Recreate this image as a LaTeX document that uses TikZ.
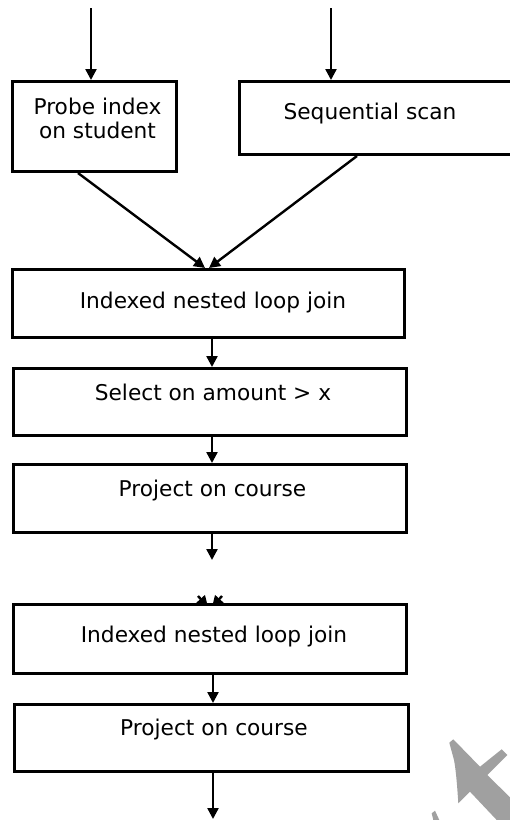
\documentclass[tikz,border=0pt]{standalone}
\usepackage{fontspec}
\setmainfont{DejaVu Sans}
\usetikzlibrary{arrows.meta}
\definecolor{wm}{RGB}{160,160,160}
\begin{document}
\begin{tikzpicture}[x=1pt,y=-1pt,
  box/.style={draw=black,line width=3pt,rectangle,inner sep=0pt,fill=white},
  lbl/.style={font=\fontsize{21.7}{26}\selectfont,inner sep=0pt,anchor=base},
  arr/.style={line width=2.4pt,-{Triangle[length=11pt,width=11pt]}},
]
\useasboundingbox (0,0) rectangle (510,820);
\begin{scope}
\clip (0,0) rectangle (510,820);
% watermark fragment
\fill[wm] (449.3,742.7) -- (453.3,739.3) -- (480,766.7) -- (501.7,749.3) -- (507.3,755)
  -- (487.3,775) -- (510,797.3) -- (510,820) -- (496.7,820) -- (470,791.7) -- (458.3,803.3)
  .. controls (457.5,790) and (456,770) .. (454,760) -- cycle;
\fill[wm] (431.7,813.3) -- (435,810.7) -- (439.3,820) -- (433.3,820) -- cycle;

% free ends
\coordinate (in1) at (91,8);
\coordinate (in2) at (331,8);
\coordinate (out5) at (212,560);
\coordinate (out7) at (213,819);
\coordinate (h1) at (198,596);
\coordinate (h2) at (222,596);

% arrows drawn below boxes
\draw[arr] (h1) -- (208,607);
\draw[arr] (h2) -- (212,607);

% boxes
\node[box,minimum width=164pt,minimum height=90pt] (b1) at (94.5,126.5) {};
\node[box,minimum width=290pt,minimum height=73pt] (b2) at (384.5,118) {};
\node[box,minimum width=392pt,minimum height=68pt] (b3) at (208.5,303.5) {};
\node[box,minimum width=393pt,minimum height=67pt] (b4) at (210,402) {};
\node[box,minimum width=393pt,minimum height=68pt] (b5) at (210,498.5) {};
\node[box,minimum width=393pt,minimum height=69pt] (b6) at (210,639) {};
\node[box,minimum width=394pt,minimum height=67pt] (b7) at (211.5,738) {};

% labels
\node[lbl] (t1a) at (97.5,114) {Probe index};
\node[lbl] (t1b) at (97.5,138.3) {on student};
\node[lbl] (t2) at (370,119) {Sequential scan};
\node[lbl] (t3) at (213,308.3) {Indexed nested loop join};
\node[lbl] (t4) at (213,400) {Select on amount > x};
\node[lbl] (t5) at (212.5,496) {Project on course};
\node[lbl] (t6) at (214,642.7) {Indexed nested loop join};
\node[lbl] (t7) at (214,735) {Project on course};

% connectors
\draw[arr] (in1) -- (in1 |- b1.north);
\draw[arr] (in2) -- (in2 |- b2.north);
\draw[arr] ([xshift=-16.5pt]b1.south) -- ([xshift=-3.5pt]b3.north);
\draw[arr] ([xshift=-27.5pt]b2.south) -- ([xshift=0.5pt]b3.north);
\draw[arr] ([xshift=3.5pt]b3.south) -- ([xshift=2pt]b4.north);
\draw[arr] ([xshift=2pt]b4.south) -- ([xshift=2pt]b5.north);
\draw[arr] ([xshift=2pt]b5.south) -- (out5);
\draw[arr] ([xshift=3pt]b6.south) -- ([xshift=1.5pt]b7.north);
\draw[arr] ([xshift=1.5pt]b7.south) -- (out7);
\end{scope}
\end{tikzpicture}
\end{document}
